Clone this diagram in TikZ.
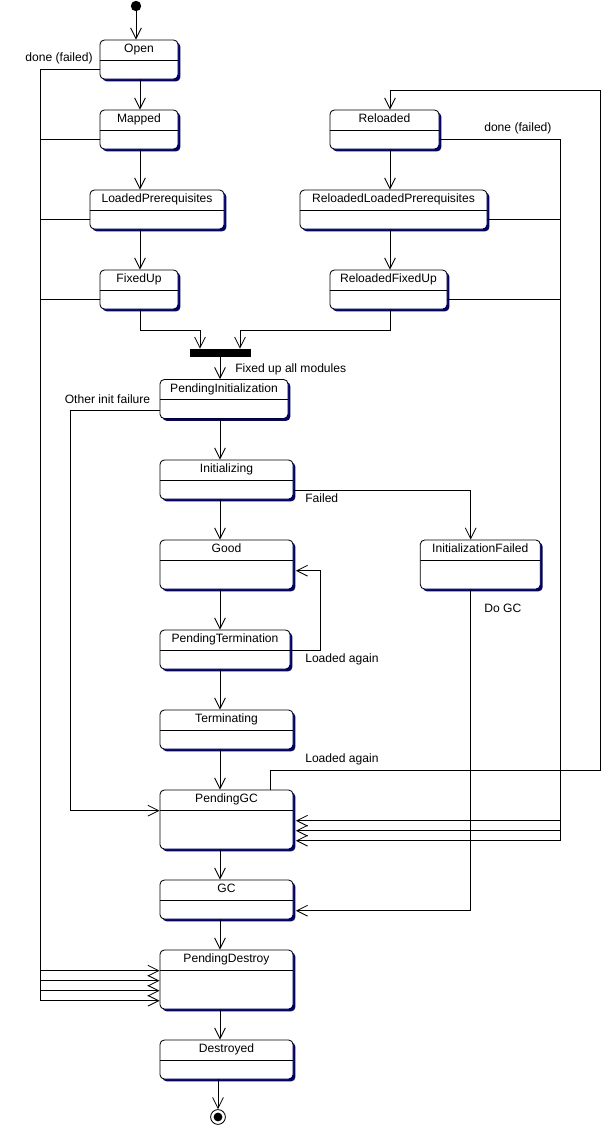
\documentclass[tikz,border=0pt]{standalone}
\usepackage{fontspec}
\setmainfont{Liberation Sans}
\usetikzlibrary{arrows.meta,shadows}
\definecolor{umlshadow}{RGB}{0,0,128}

\tikzset{
  state/.style={draw, line width=0.6pt, rounded corners=0.11cm, fill=white,
    inner sep=0pt, minimum height=0.975cm, text height=0.31cm, text depth=0.665cm,
    font=\fontsize{8.6}{10}\selectfont,
    drop shadow={shadow xshift=0.06cm, shadow yshift=-0.06cm, fill=umlshadow, opacity=1},
    path picture={\draw[line width=0.6pt] ([yshift=-0.5cm]path picture bounding box.north west)
      -- ([yshift=-0.5cm]path picture bounding box.north east);}},
  short/.style={text depth=0.64cm},
  tall/.style={text depth=0.915cm},
  taller/.style={text depth=1.165cm},
  trans/.style={line width=0.6pt, -{Straight Barb[length=0.27cm,width=0.27cm]}},
  lbl/.style={font=\fontsize{8.6}{10}\selectfont, inner sep=0pt},
  bar/.style={fill=black, inner sep=0pt, minimum width=1.525cm, minimum height=0.2cm}
}

\begin{document}
\begin{tikzpicture}[x=0.025cm, y=-0.025cm]
\useasboundingbox (0,0) rectangle (612,1126);

% columns and rails
\coordinate (colA) at (140,0);
\coordinate (colB) at (220,0);
\coordinate (colC) at (390,0);
\coordinate (colD) at (470.7,0);
\coordinate (colE) at (270.7,0);
\coordinate (railL) at (40.7,500);
\coordinate (railM) at (70.3,600);
\coordinate (railR) at (560.7,500);
\coordinate (loopR) at (320.7,610);
\coordinate (jl) at (200,330);
\coordinate (jr) at (240,330);
\coordinate (backB) at (600.7,770.7);
\coordinate (backT) at (600.7,90.7);

% initial state
\node[circle, fill=black, minimum size=0.26cm, inner sep=0pt] (start) at (136,6) {};

% loading states
\node[state, minimum width=1.95cm] (open) at (139,59.5) {Open};
\node[state, minimum width=1.95cm] (mapped) at (139,129.5) {Mapped};
\node[state, minimum width=3.35cm] (loadedpre) at (157,209.5) {LoadedPrerequisites};
\node[state, minimum width=1.95cm] (fixedup) at (139,289.5) {FixedUp};

\node[state, minimum width=2.725cm] (reloaded) at (384.5,129.5) {Reloaded};
\node[state, minimum width=4.675cm] (reloadedpre) at (393.5,209.5) {ReloadedLoadedPrerequisites};
\node[state, minimum width=2.925cm] (reloadedfix) at (388.5,289.5) {ReloadedFixedUp};

\node[bar] (join) at (220.5,353) {};

% main column
\node[state, short, minimum width=3.2cm] (pendinit) at (224,399) {PendingInitialization};
\node[state, minimum width=3.325cm] (initializing) at (226.5,479.5) {Initializing};
\node[state, tall, minimum width=3.325cm] (good) at (226.5,564.5) {Good};
\node[state, tall, minimum width=3cm] (initfailed) at (480.3,564.5) {InitializationFailed};
\node[state, minimum width=3.25cm] (pendterm) at (225,649.5) {PendingTermination};
\node[state, minimum width=3.325cm] (terminating) at (226.5,729.5) {Terminating};
\node[state, taller, minimum width=3.325cm] (pendgc) at (226.5,819.5) {PendingGC};
\node[state, minimum width=3.325cm] (gc) at (226.5,899.5) {GC};
\node[state, taller, minimum width=3.325cm] (penddestroy) at (226.5,979.5) {PendingDestroy};
\node[state, minimum width=3.325cm] (destroyed) at (226.5,1059.5) {Destroyed};

% final state
\node[circle, draw, line width=0.6pt, minimum size=0.37cm, inner sep=0pt] (final) at (218,1117) {};
\fill (final.center) circle (0.11cm);

% straight transitions
\draw[trans] (start) -- (open.north -| start);
\draw[trans] (open.south -| colA) -- (mapped.north -| colA);
\draw[trans] (mapped.south -| colA) -- (loadedpre.north -| colA);
\draw[trans] (loadedpre.south -| colA) -- (fixedup.north -| colA);
\draw[trans] (reloaded.south -| colC) -- (reloadedpre.north -| colC);
\draw[trans] (reloadedpre.south -| colC) -- (reloadedfix.north -| colC);
\draw[trans] (fixedup.south -| colA) |- (jl) -- (join.north -| jl);
\draw[trans] (reloadedfix.south -| colC) |- (jr) -- (join.north -| jr);
\draw[trans] (join.south -| colB) -- (pendinit.north -| colB);
\draw[trans] (pendinit.south -| colB) -- (initializing.north -| colB);
\draw[trans] (initializing.south -| colB) -- (good.north -| colB);
\draw[trans] (good.south -| colB) -- (pendterm.north -| colB);
\draw[trans] (pendterm.south -| colB) -- (terminating.north -| colB);
\draw[trans] (terminating.south -| colB) -- (pendgc.north -| colB);
\draw[trans] (pendgc.south -| colB) -- (gc.north -| colB);
\draw[trans] (gc.south -| colB) -- (penddestroy.north -| colB);
\draw[trans] (penddestroy.south -| colB) -- (destroyed.north -| colB);
\draw[trans] (destroyed.south -| final) -- (final.north);

% failures while loading
\draw[trans] ([yshift=-0.26cm]open.west) -| (railL) |- ([yshift=0.22cm]penddestroy.west);
\draw[trans] ([yshift=-0.26cm]mapped.west) -| (railL) |- ([yshift=-0.03cm]penddestroy.west);
\draw[trans] ([yshift=-0.26cm]loadedpre.west) -| (railL) |- ([yshift=-0.28cm]penddestroy.west);
\draw[trans] ([yshift=-0.26cm]fixedup.west) -| (railL) |- ([yshift=-0.53cm]penddestroy.west);
\node[lbl] (donefailedL) at (59,58) {done (failed)};

\draw[trans] ([yshift=-0.26cm]reloaded.east) -| (railR) |- ([xshift=0.06cm,yshift=-0.03cm]pendgc.east);
\draw[trans] ([yshift=-0.26cm]reloadedpre.east) -| (railR) |- ([xshift=0.06cm,yshift=-0.28cm]pendgc.east);
\draw[trans] ([yshift=-0.26cm]reloadedfix.east) -| (railR) |- ([xshift=0.06cm,yshift=-0.53cm]pendgc.east);
\node[lbl, anchor=west] (donefailedR) at (484,128) {done (failed)};

% initialization
\node[lbl, anchor=west] (fixedall) at (235,369) {Fixed up all modules};
\draw[trans] ([yshift=-0.275cm]pendinit.west) -| (railM) |- ([yshift=0.22cm]pendgc.west);
\node[lbl] (otherfail) at (107.5,399) {Other init failure};
\draw[trans] ([yshift=-0.28cm]initializing.east) -| (initfailed.north -| colD);
\node[lbl, anchor=west] (failed) at (305,498.5) {Failed};
\draw[trans] (initfailed.south -| colD) |- ([xshift=0.06cm,yshift=-0.28cm]gc.east);
\node[lbl, anchor=west] (dogc) at (484,608) {Do GC};

% loaded again
\draw[trans] ([yshift=-0.03cm]pendterm.east) -| (loopR) |- ([xshift=0.06cm,yshift=-0.155cm]good.east);
\node[lbl, anchor=west] (againA) at (305,659) {Loaded again};
\draw[trans] (pendgc.north -| colE) |- (backB) -- (backT) -| (reloaded.north -| colC);
\node[lbl, anchor=west] (againB) at (305,759) {Loaded again};
\end{tikzpicture}
\end{document}
